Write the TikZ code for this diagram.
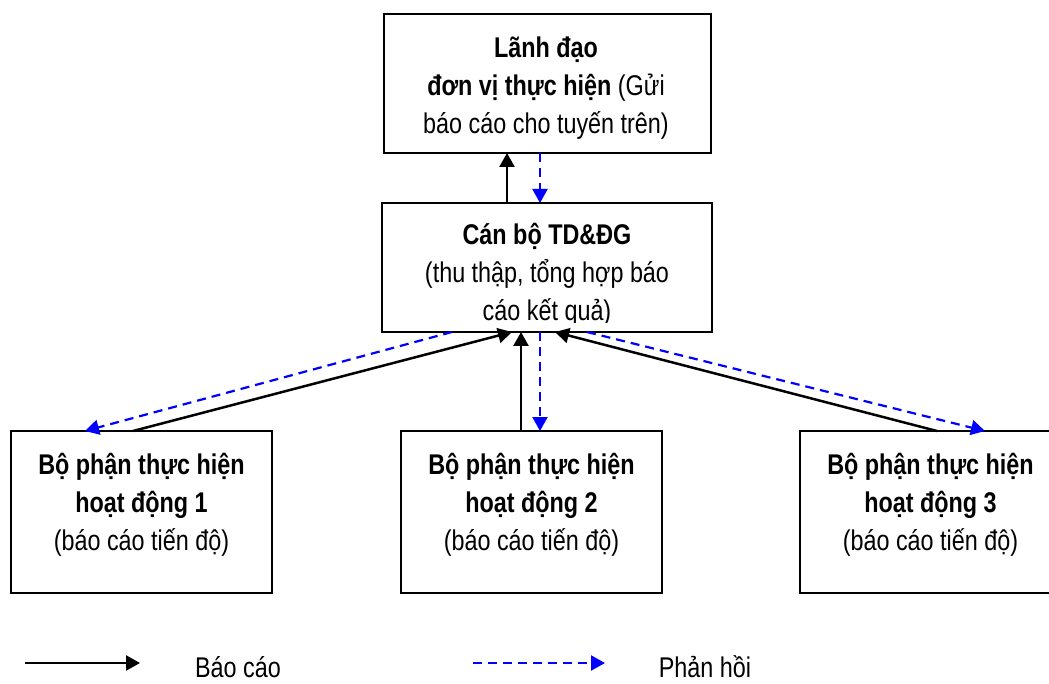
\documentclass[tikz,border=0pt]{standalone}
\usepackage{fontspec}
\setmainfont{Liberation Sans}[FakeStretch=0.82]
\usetikzlibrary{arrows.meta}
\definecolor{fbblue}{RGB}{0,0,255}
\begin{document}
\begin{tikzpicture}[x=1pt,y=-1pt,
  box/.style={draw=black, line width=2.2pt, inner sep=0pt, outer sep=0pt},
  txt/.style={align=center, inner sep=0pt, font=\fontsize{28.5}{38}\selectfont},
  rep/.style={black, line width=2.5pt, -{Triangle[length=14pt,width=15pt]}},
  fb/.style={fbblue, line width=2.2pt, dash pattern=on 9pt off 6pt, -{Triangle[length=14pt,width=15pt]}}]
\useasboundingbox (0,0) rectangle (1049,684);

% top box
\node[box, minimum width=327pt, minimum height=139pt] (top) at (547.5,83.5) {};
\node[txt] (toptxt) at (546,88) {\textbf{Lãnh đạo}\\\textbf{đơn vị thực hiện} (Gửi\\báo cáo cho tuyến trên)};

% middle box
\begin{scope}
  \clip (382,203) rectangle (712,323);
  \node[txt] (midtxt) at (547,275) {\textbf{Cán bộ TD\&ĐG}\\(thu thập, tổng hợp báo\\cáo kết quả)};
\end{scope}
\node[box, minimum width=330pt, minimum height=129pt] (mid) at (547,267.5) {};

% bottom boxes
\node[box, minimum width=261pt, minimum height=162pt] (b1) at (141.5,512) {};
\node[txt] (b1txt) at (141.5,505) {\textbf{Bộ phận thực hiện}\\\textbf{hoạt động 1}\\(báo cáo tiến độ)};
\node[box, minimum width=261pt, minimum height=162pt] (b2) at (531.5,512) {};
\node[txt] (b2txt) at (531.5,505) {\textbf{Bộ phận thực hiện}\\\textbf{hoạt động 2}\\(báo cáo tiến độ)};
\node[box, minimum width=261pt, minimum height=162pt] (b3) at (930.5,512) {};
\node[txt] (b3txt) at (930.5,505) {\textbf{Bộ phận thực hiện}\\\textbf{hoạt động 3}\\(báo cáo tiến độ)};

% connectors
\draw[rep] (507,0 |- mid.north) -- (507,0 |- top.south);
\draw[fb] (540,0 |- top.south) -- (540,0 |- mid.north);
\draw[rep] (521,0 |- b2.north) -- (521,0 |- mid.south);
\draw[fb] (540,0 |- mid.south) -- (540,0 |- b2.north);
\draw[rep] (133,0 |- b1.north) -- (512,0 |- mid.south);
\draw[fb] (452,0 |- mid.south) -- (85,0 |- b1.north);
\draw[rep] (937,0 |- b3.north) -- (555,0 |- mid.south);
\draw[fb] (587,0 |- mid.south) -- (985,0 |- b3.north);

% legend
\coordinate (ls1) at (25,663);
\coordinate (ls2) at (140,663);
\draw[rep] (ls1) -- (ls2);
\node[txt, anchor=base] (lt1) at (238,677) {Báo cáo};
\coordinate (lf1) at (473,663);
\coordinate (lf2) at (605,663);
\draw[fb] (lf1) -- (lf2);
\node[txt, anchor=base] (lt2) at (705,677) {Phản hồi};
\end{tikzpicture}
\end{document}
